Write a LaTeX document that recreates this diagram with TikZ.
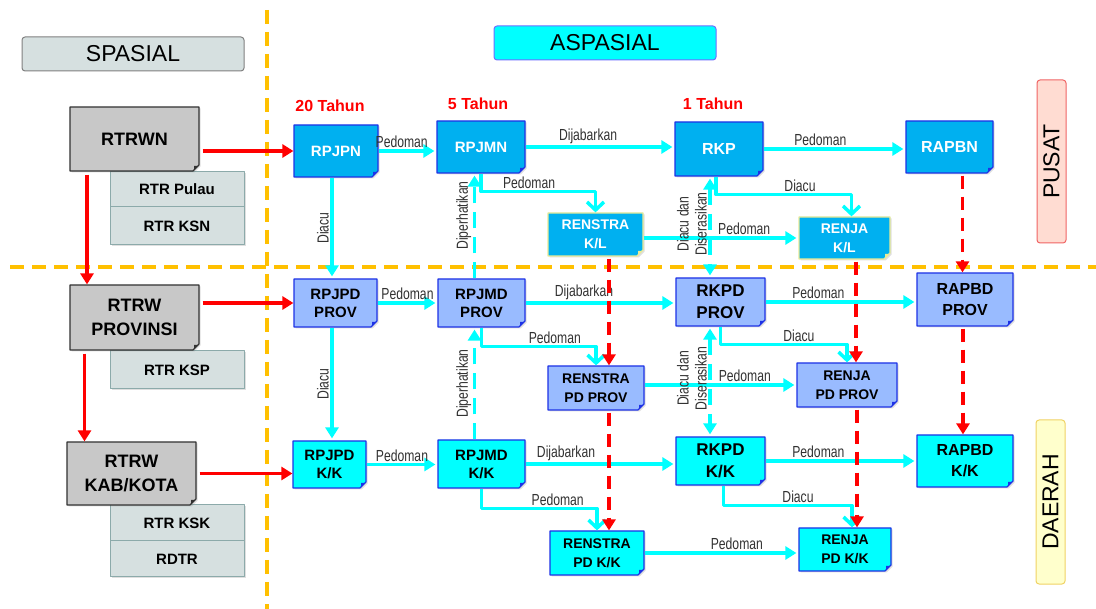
\documentclass[tikz,border=0pt]{standalone}
\usepackage{fontspec}
\setmainfont{Liberation Sans}
\newfontfamily\narrowfont[FakeStretch=0.76]{Liberation Sans}
\usetikzlibrary{arrows.meta,positioning,shapes.misc,shadows}
\definecolor{pusatfill}{RGB}{0,176,240}
\definecolor{provfill}{RGB}{153,187,255}
\definecolor{kkfill}{RGB}{0,255,255}
\definecolor{docline}{RGB}{30,50,230}
\definecolor{klline}{RGB}{235,235,150}
\definecolor{arrcyan}{RGB}{0,255,255}
\definecolor{guideorange}{RGB}{255,192,0}
\definecolor{rtrfill}{RGB}{200,200,200}
\definecolor{rtrline}{RGB}{50,50,50}
\definecolor{subfill}{RGB}{214,224,224}
\definecolor{subline}{RGB}{140,170,170}
\definecolor{headline}{RGB}{110,110,255}
\definecolor{pusatpink}{RGB}{255,220,210}
\definecolor{pusatred}{RGB}{240,100,100}
\definecolor{daerahfill}{RGB}{255,255,204}
\definecolor{daerahline}{RGB}{240,210,100}
\definecolor{lbltext}{RGB}{50,50,50}

\tikzset{
  doc/.style={chamfered rectangle, chamfered rectangle corners=south east,
    chamfered rectangle xsep=3pt, chamfered rectangle ysep=3pt,
    draw=#1, line width=1.2pt, inner sep=1pt, align=center,
    font=\bfseries\fontsize{15}{18}\selectfont,
    drop shadow={shadow xshift=1.5pt,shadow yshift=-1.5pt,opacity=.25},
    path picture={\fill[#1] ([xshift=-5pt]path picture bounding box.south east)
      -- ([xshift=-5pt,yshift=5pt]path picture bounding box.south east)
      -- ([yshift=5pt]path picture bounding box.south east) -- cycle;}},
  pusatdoc/.style={doc=docline, fill=pusatfill, text=white},
  provdoc/.style={doc=docline, fill=provfill},
  kkdoc/.style={doc=docline, fill=kkfill},
  kldoc/.style={doc=klline, fill=pusatfill, text=white, font=\bfseries\fontsize{14}{19}\selectfont},
  rtrdoc/.style={doc=rtrline, fill=rtrfill, font=\bfseries\fontsize{18}{24}\selectfont},
  subdoc/.style={draw=subline, fill=subfill, line width=1pt, minimum width=134pt,
    font=\bfseries\fontsize{15}{18}\selectfont,
    drop shadow={shadow xshift=1.5pt,shadow yshift=-1.5pt,opacity=.25}},
  head/.style={rounded corners=3pt, line width=1pt, minimum width=222pt, minimum height=34pt,
    font=\fontsize{23}{26}\selectfont},
  tier/.style={rounded corners=3pt, line width=1pt, rotate=90, minimum height=29pt, inner sep=0pt,
    font=\fontsize{23}{26}\selectfont},
  period/.style={text=red, font=\bfseries\fontsize{16}{18}\selectfont},
  lbl/.style={text=lbltext, inner sep=1.5pt, align=center, font=\narrowfont\fontsize{16}{18}\selectfont},
}

\begin{document}
\begin{tikzpicture}[x=1pt,y=-1pt,line join=round,
  flow/.style={draw=arrcyan, line width=3.5pt, shorten >=2pt, -{Triangle[length=11pt,width=13pt]}},
  flowdash/.style={flow, dash pattern=on 16pt off 9pt},
  flowboth/.style={flowdash, shorten <=2pt, {Triangle[length=11pt,width=13pt]}-{Triangle[length=11pt,width=13pt]}},
  bendflow/.style={draw=arrcyan, line width=3.5pt, -{Straight Barb[length=8pt,width=17pt]}},
  redflow/.style={draw=red, line width=3.5pt, shorten <=3pt, -{Triangle[length=11pt,width=13pt]}},
  reddash/.style={redflow, shorten <=2pt, dash pattern=on 13pt off 8pt},
  guide/.style={draw=guideorange, line width=3.5pt, dash pattern=on 14pt off 8pt}]

\fill[white] (0,0) rectangle (1096,609);
\useasboundingbox (0,0) rectangle (1096,609);

% dividing lines
\draw[guide] (267,10) -- (267,609);
\draw[guide] (10,267) -- (1096,267);

% headers
\node[head, fill=subfill, draw=gray] (spasial) at (133,54) {SPASIAL};
\node[head, fill=kkfill, draw=headline] (aspasial) at (605,43) {ASPASIAL};
\node[tier, fill=pusatpink, draw=pusatred, minimum width=163pt] (pusat) at (1051.5,161.5) {PUSAT};
\node[tier, fill=daerahfill, draw=daerahline, minimum width=164pt] (daerah) at (1050.5,502) {DAERAH};

\node[period] (tahun20) at (330,106) {20 Tahun};
\node[period] (tahun5) at (478,104) {5 Tahun};
\node[period] (tahun1) at (713,104) {1 Tahun};

% spasial
\node[subdoc, minimum height=35pt] (rtrpulau) at (177,189.5) {RTR Pulau};
\node[subdoc, minimum height=38pt] (rtrksn) at (177,226) {RTR KSN};
\node[subdoc, minimum height=38pt] (rtrksp) at (177,370) {RTR KSP};
\node[subdoc, minimum height=36pt] (rtrksk) at (177,523) {RTR KSK};
\node[subdoc, minimum height=36pt] (rdtr) at (177,559) {RDTR};
\node[rtrdoc, minimum width=129pt, minimum height=64pt] (rtrwn) at (134.5,139) {RTRWN};
\node[rtrdoc, minimum width=129pt, minimum height=65pt] (rtrwprov) at (134.5,317.5) {RTRW\\PROVINSI};
\node[rtrdoc, minimum width=129pt, minimum height=63pt] (rtrwkab) at (131.5,473.5) {RTRW\\KAB/KOTA};

% pusat
\node[pusatdoc, minimum width=84pt, minimum height=52pt] (rpjpn) at (336,151) {RPJPN};
\node[pusatdoc, minimum width=88pt, minimum height=52pt] (rpjmn) at (481,147) {RPJMN};
\node[pusatdoc, minimum width=88pt, minimum height=54pt, font=\bfseries\fontsize{16}{18}\selectfont] (rkp) at (719,149) {RKP};
\node[pusatdoc, minimum width=87pt, minimum height=52pt, font=\bfseries\fontsize{16}{18}\selectfont] (rapbn) at (949.5,147) {RAPBN};
\node[kldoc, minimum width=95pt, minimum height=43pt] (renstrakl) at (595.5,234.5) {RENSTRA\\K/L};
\node[kldoc, minimum width=91pt, minimum height=42pt] (renjakl) at (844.5,238) {RENJA\\K/L};

% provinsi
\node[provdoc, minimum width=83pt, minimum height=48pt] (rpjpdprov) at (335.5,303) {RPJPD\\PROV};
\node[provdoc, minimum width=87pt, minimum height=48pt] (rpjmdprov) at (481.5,303) {RPJMD\\PROV};
\node[provdoc, minimum width=89pt, minimum height=48pt, font=\bfseries\fontsize{17}{22}\selectfont] (rkpdprov) at (720.5,302) {RKPD\\PROV};
\node[provdoc, minimum width=96pt, minimum height=53pt, font=\bfseries\fontsize{16}{21}\selectfont] (rapbdprov) at (965,299.5) {RAPBD\\PROV};
\node[provdoc, minimum width=96pt, minimum height=44pt, font=\bfseries\fontsize{14}{19}\selectfont] (renstrapdprov) at (596,388) {RENSTRA\\PD PROV};
\node[provdoc, minimum width=100pt, minimum height=44pt, font=\bfseries\fontsize{14}{19}\selectfont] (renjapdprov) at (847,385) {RENJA\\PD PROV};

% kabupaten/kota
\node[kkdoc, minimum width=73pt, minimum height=47pt] (rpjpdkk) at (329.5,464.5) {RPJPD\\K/K};
\node[kkdoc, minimum width=87pt, minimum height=48pt] (rpjmdkk) at (481.5,464) {RPJMD\\K/K};
\node[kkdoc, minimum width=89pt, minimum height=48pt, font=\bfseries\fontsize{17}{22}\selectfont] (rkpdkk) at (720.5,461) {RKPD\\K/K};
\node[kkdoc, minimum width=96pt, minimum height=52pt, font=\bfseries\fontsize{16}{21}\selectfont] (rapbdkk) at (965,461) {RAPBD\\K/K};
\node[kkdoc, minimum width=94pt, minimum height=44pt, font=\bfseries\fontsize{14}{19}\selectfont] (renstrapdkk) at (597,553) {RENSTRA\\PD K/K};
\node[kkdoc, minimum width=92pt, minimum height=43pt, font=\bfseries\fontsize{14}{19}\selectfont] (renjapdkk) at (845,549.5) {RENJA\\PD K/K};

% spasial -> aspasial
\draw[redflow] (rtrwn.east |- rpjpn.west) -- (rpjpn.west);
\draw[redflow] (rtrwprov.east |- rpjpdprov.west) -- (rpjpdprov.west);
\draw[redflow] (rtrwkab.east) -- (rtrwkab.east -| rpjpdkk.west);
\draw[redflow] ([xshift=-47.5pt]rtrwn.south) -- ([xshift=-47.5pt]rtrwn.south |- rtrwprov.north);
\draw[redflow] ([xshift=-50pt]rtrwprov.south) -- ([xshift=-50pt]rtrwprov.south |- rtrwkab.north);

% pusat
\draw[flow] (rpjpn.east) -- node[lbl,above,pos=.4]{Pedoman} (rpjpn.east -| rpjmn.west);
\draw[flow] (rpjmn.east) -- node[lbl,above,pos=.42]{Dijabarkan} (rpjmn.east -| rkp.west);
\draw[flow] (rkp.east) -- node[lbl,above,pos=.4]{Pedoman} (rkp.east -| rapbn.west);
\draw[bendflow] (rpjmn.south) -- ++(0,18) -| node[lbl,above,pos=.21]{Pedoman} (renstrakl.north);
\draw[bendflow] ([xshift=-3pt]rkp.south) -- ++(0,18) -| node[lbl,above,pos=.31]{Diacu} ([xshift=7pt]renjakl.north);
\draw[flow] (renstrakl.east |- renjakl.west) -- node[lbl,above,pos=.65]{Pedoman} (renjakl.west);
\draw[flow] ([xshift=-4pt]rpjpn.south) -- node[lbl,above,rotate=90]{Diacu} ([xshift=-4pt]rpjpn.south |- rpjpdprov.north);
\draw[flowdash] ([xshift=-7pt]rpjmdprov.north) -- node[lbl,above,rotate=90,pos=.6]{Diperhatikan} ([xshift=-7pt]rpjmdprov.north |- rpjmn.south);
\draw[flowboth] ([xshift=-9pt]rkp.south) -- node[lbl,above=3pt,rotate=90]{Diacu dan\\Diserasikan} ([xshift=-9pt]rkp.south |- rkpdprov.north);

% provinsi
\draw[flow] (rpjpdprov.east) -- node[lbl,above]{Pedoman} (rpjpdprov.east -| rpjmdprov.west);
\draw[flow] (rpjmdprov.east) -- node[lbl,above,pos=.39]{Dijabarkan} (rpjmdprov.east -| rkpdprov.west);
\draw[flow] (rkpdprov.east) -- node[lbl,above,pos=.35]{Pedoman} (rkpdprov.east -| rapbdprov.west);
\draw[bendflow] (rpjmdprov.south) -- ++(0,19) -| node[lbl,above,pos=.32]{Pedoman} (renstrapdprov.north);
\draw[bendflow] (rkpdprov.south) -- ++(0,18) -| node[lbl,above,pos=.31]{Diacu} (renjapdprov.north);
\draw[flow] (renstrapdprov.east |- renjapdprov.west) -- node[lbl,above,pos=.66]{Pedoman} (renjapdprov.west);
\draw[flow] ([xshift=-3.5pt]rpjpdprov.south) -- node[lbl,above,rotate=90]{Diacu} ([xshift=-3.5pt]rpjpdprov.south |- rpjpdkk.north);
\draw[flowdash] ([xshift=-7pt]rpjmdkk.north) -- node[lbl,above,rotate=90]{Diperhatikan} ([xshift=-7pt]rpjmdkk.north |- rpjmdprov.south);
\draw[flowboth] ([xshift=-10.5pt]rkpdprov.south) -- node[lbl,above=3pt,rotate=90]{Diacu dan\\Diserasikan} ([xshift=-10.5pt]rkpdprov.south |- rkpdkk.north);

% kabupaten/kota
\draw[flow] (rpjpdkk.east) -- node[lbl,above]{Pedoman} (rpjpdkk.east -| rpjmdkk.west);
\draw[flow] (rpjmdkk.east) -- node[lbl,above,pos=.27]{Dijabarkan} (rpjmdkk.east -| rkpdkk.west);
\draw[flow] (rkpdkk.east) -- node[lbl,above,pos=.35]{Pedoman} (rkpdkk.east -| rapbdkk.west);
\draw[bendflow] (rpjmdkk.south) -- ++(0,20) -| node[lbl,above,pos=.33]{Pedoman} (renstrapdkk.north);
\draw[bendflow] ([xshift=3pt]rkpdkk.south) -- ++(0,20) -| node[lbl,above,pos=.29]{Diacu} ([xshift=7pt]renjapdkk.north);
\draw[flow] (renstrapdkk.east) -- node[lbl,above,pos=.6]{Pedoman} (renstrapdkk.east -| renjapdkk.west);

% anggaran / turunan (red dashed)
\draw[reddash] ([xshift=13pt]rapbn.south) -- ([xshift=13pt]rapbn.south |- rapbdprov.north);
\draw[reddash] ([xshift=-2pt]rapbdprov.south) -- ([xshift=-2pt]rapbdprov.south |- rapbdkk.north);
\draw[reddash] ([xshift=13.5pt]renstrakl.south) -- ([xshift=13.5pt]renstrakl.south |- renstrapdprov.north);
\draw[reddash] ([xshift=13pt]renstrapdprov.south) -- ([xshift=13pt]renstrapdprov.south |- renstrapdkk.north);
\draw[reddash] ([xshift=11.5pt]renjakl.south) -- ([xshift=11.5pt]renjakl.south |- renjapdprov.north);
\draw[reddash] ([xshift=10pt]renjapdprov.south) -- ([xshift=10pt]renjapdprov.south |- renjapdkk.north);
\end{tikzpicture}
\end{document}
